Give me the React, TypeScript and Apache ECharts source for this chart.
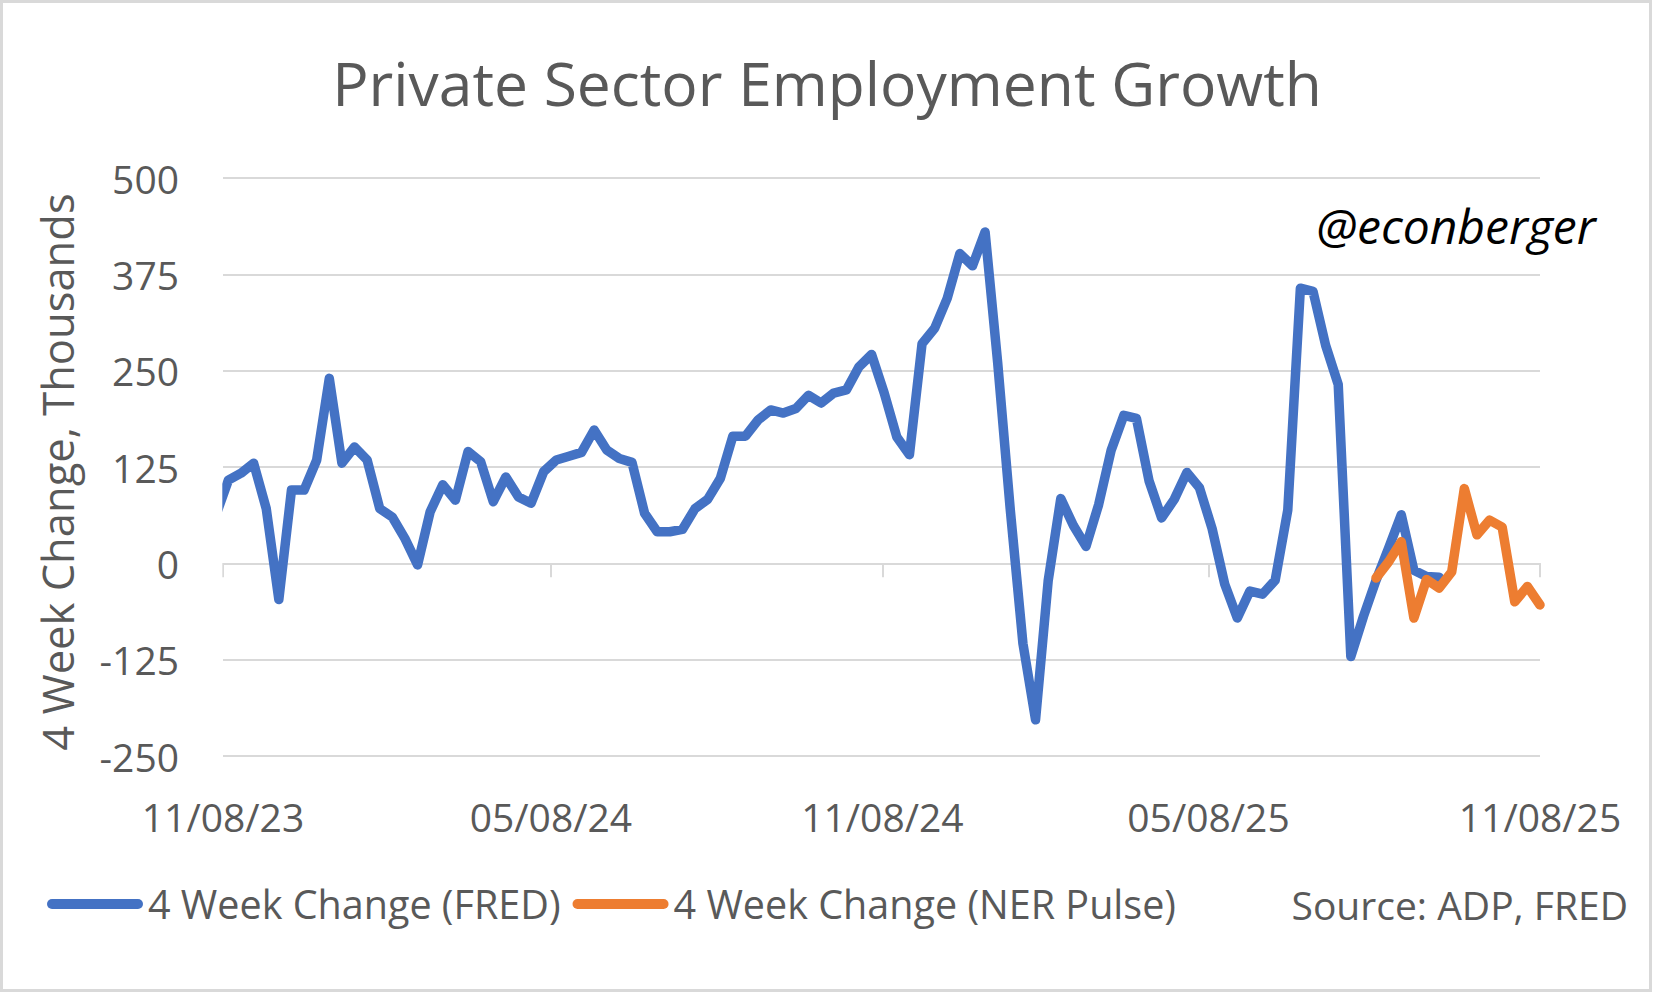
import React, { useEffect, useRef } from "react";
import * as echarts from "echarts";

// ---- data (weekly, week ending Saturdays) ----
const FRED_START = "2023-11-04";
const fredValues = [
  62, 108, 117, 130, 71, -47, 95, 95, 134, 240, 130, 151, 134, 71, 60, 32, -2,
  67, 102, 82, 145, 132, 80, 112, 86, 78, 119, 134, 139, 144, 173, 147, 136,
  131, 65, 41, 41, 44, 71, 83, 110, 165, 165, 186, 199, 195, 201, 218, 208, 221,
  225, 255, 271, 221, 164, 141, 285, 305, 344, 402, 386, 430, 260, 69, -104,
  -203, -23, 84, 49, 22, 76, 147, 192, 188, 107, 59, 83, 118, 98, 45, -27, -71,
  -36, -40, -22, 69, 357, 353, 283, 232, -121, -69, -22, 20, 63, -9, -17, -18,
];
const NER_START = "2025-08-09";
const nerValues = [-19, 2, 28, -71, -21, -32, -11, 97, 37, 56, 47, -50, -30, -54];

const seriesNames = ["4 Week Change (FRED)", "4 Week Change (NER Pulse)"];
const xAxisMin = "2023-11-08";
const xAxisMax = "2025-11-08";
const xTickDates = ["2023-11-08", "2024-05-08", "2024-11-08", "2025-05-08", "2025-11-08"];
const yMin = -250;
const yMax = 500;
const yInterval = 125;

const titleText = "Private Sector Employment Growth";
const yAxisTitle = "4 Week Change, Thousands";
const watermark = "@econberger";
const sourceText = "Source: ADP, FRED";

// ---- helpers ----
const DAY = 86400000;
const toMs = (s: string) => {
  const [y, m, d] = s.split("-").map(Number);
  return Date.UTC(y, m - 1, d);
};
const weekly = (start: string, vals: number[]) =>
  vals.map((v, i) => [toMs(start) + i * 7 * DAY, v]);
const pad = (n: number) => (n < 10 ? "0" + n : "" + n);
const fmtDate = (ms: number) => {
  const d = new Date(ms);
  return `${pad(d.getUTCMonth() + 1)}/${pad(d.getUTCDate())}/${pad(d.getUTCFullYear() % 100)}`;
};

const FONT = "'Open Sans', 'Noto Sans', sans-serif";
const GRAY = "#595959";
const GRID = "#d9d9d9";

export default function App() {
  const ref = useRef<HTMLDivElement>(null);
  useEffect(() => {
    if (!ref.current) return;
    const chart = echarts.init(ref.current, undefined, { renderer: "svg" });
    const ticks = xTickDates.map(toMs);
    const option: any = {
      animation: false,
      backgroundColor: "#ffffff",
      textStyle: { fontFamily: FONT },
      grid: {
        left: 223,
        right: 113,
        top: 178,
        bottom: 237,
        containLabel: false,
        outerBoundsMode: "none",
      },
      legend: {
        left: 47,
        top: 884,
        padding: 0,
        itemWidth: 96,
        itemHeight: 10,
        itemGap: 12,
        selectedMode: false,
        icon: "path://M5 0H91A5 5 0 0 1 91 10H5A5 5 0 0 1 5 0Z",
        data: seriesNames,
        textStyle: { fontFamily: FONT, fontSize: 39.5, color: GRAY },
      },
      xAxis: [
        {
          type: "value",
          min: toMs(xAxisMin),
          max: toMs(xAxisMax),
          position: "bottom",
          axisLine: { show: true, onZero: true, lineStyle: { color: GRID, width: 2 } },
          axisTick: {
            show: true,
            customValues: ticks,
            length: 14,
            lineStyle: { color: GRID, width: 2 },
          },
          axisLabel: { show: false },
          splitLine: { show: false },
        },
        {
          type: "value",
          min: toMs(xAxisMin),
          max: toMs(xAxisMax),
          position: "bottom",
          axisLine: { show: false, onZero: false },
          axisTick: { show: false },
          axisLabel: {
            show: true,
            customValues: ticks,
            formatter: (v: number) => fmtDate(v),
            fontFamily: FONT,
            fontSize: 39,
            color: GRAY,
            margin: 41,
          },
          splitLine: { show: false },
        },
      ],
      yAxis: {
        type: "value",
        min: yMin,
        max: yMax,
        interval: yInterval,
        axisLine: { show: false },
        axisTick: { show: false },
        axisLabel: { fontFamily: FONT, fontSize: 39, color: GRAY, margin: 44 },
        splitLine: { lineStyle: { color: GRID, width: 2 } },
      },
      series: [
        {
          name: seriesNames[0],
          type: "line",
          xAxisIndex: 0,
          data: weekly(FRED_START, fredValues),
          symbol: "none",
          showSymbol: false,
          itemStyle: { color: "#4472c4" },
          lineStyle: { color: "#4472c4", width: 9.5, cap: "round", join: "round" },
        },
        {
          name: seriesNames[1],
          type: "line",
          xAxisIndex: 0,
          data: weekly(NER_START, nerValues),
          symbol: "none",
          showSymbol: false,
          itemStyle: { color: "#ed7d31" },
          lineStyle: { color: "#ed7d31", width: 9.5, cap: "round", join: "round" },
        },
      ],
      graphic: [
        {
          // trims the line exactly at the plot area's left edge, as in the original
          type: "rect",
          shape: { x: 195, y: 180, width: 27.3, height: 570 },
          style: { fill: "#ffffff" },
          z: 50,
          silent: true,
        },
        {
          type: "rect",
          shape: { x: 1.5, y: 1.5, width: 1649, height: 989 },
          style: { fill: "none", stroke: GRID, lineWidth: 3 },
          silent: true,
        },
        {
          type: "text",
          x: 827,
          y: 82,
          style: {
            text: titleText,
            font: `60.5px ${FONT}`,
            fill: GRAY,
            textAlign: "center",
            textVerticalAlign: "middle",
          },
        },
        {
          type: "text",
          x: 57.5,
          y: 472,
          rotation: Math.PI / 2,
          style: {
            text: yAxisTitle,
            font: `43.5px ${FONT}`,
            fill: GRAY,
            textAlign: "center",
            textVerticalAlign: "middle",
          },
        },
        {
          type: "text",
          x: 1456,
          y: 225,
          z: 10,
          style: {
            text: watermark,
            font: `italic 48px ${FONT}`,
            fill: "#000000",
            textAlign: "center",
            textVerticalAlign: "middle",
          },
        },
        {
          type: "text",
          x: 1628,
          y: 904,
          style: {
            text: sourceText,
            font: `39px ${FONT}`,
            fill: GRAY,
            textAlign: "right",
            textVerticalAlign: "middle",
          },
        },
      ],
    };
    chart.setOption(option);
    return () => chart.dispose();
  }, []);
  return (
    <div
      ref={ref}
      style={{ position: "fixed", left: 0, top: 0, width: 1653, height: 993, background: "#fff" }}
    />
  );
}
